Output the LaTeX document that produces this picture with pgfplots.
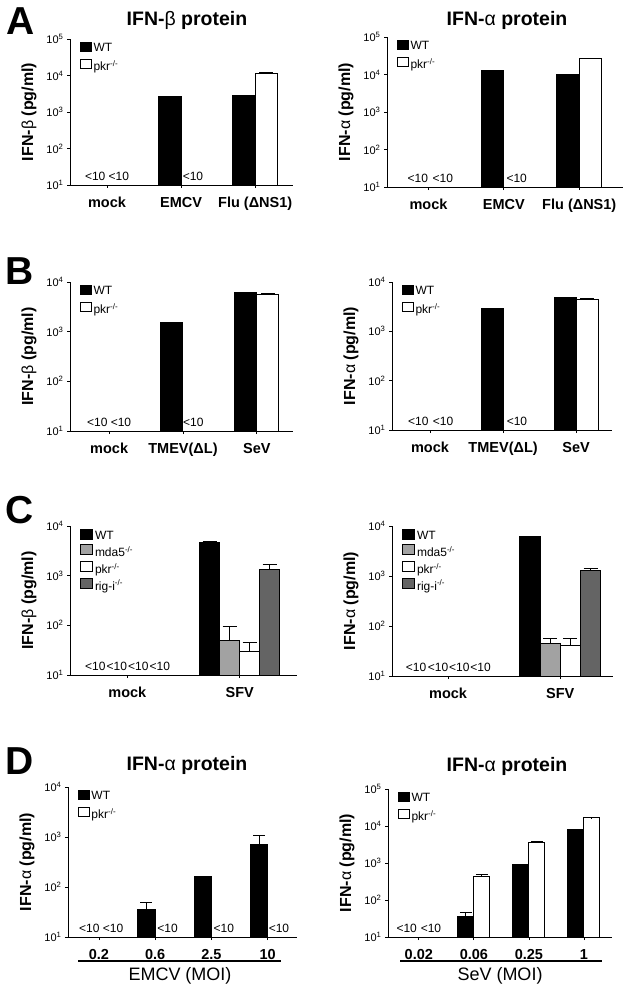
\documentclass[border=0pt]{standalone}
\usepackage{fontspec}
\setmainfont{Liberation Sans}
\usepackage{pgfplots}
\pgfplotsset{compat=1.18}

\definecolor{mdagray}{RGB}{162,162,162}
\definecolor{riggray}{RGB}{100,100,100}

\pgfplotsset{
  every axis/.append style={
    scale only axis,
    axis lines=left,
    axis line style={-, line width=1pt},
    ymode=log, log origin=infty,
    ybar=0pt,
    ymin=10,
    tick align=outside,
    major tick length=3pt,
    tick style={black, line width=0.8pt},
    yminorticks=false,
    x tick label style={font=\bfseries\fontsize{14.5}{14.5}\selectfont, anchor=base, yshift=-19.5pt},
    y tick label style={font=\fontsize{11}{11}\selectfont},
    ylabel style={font=\bfseries\fontsize{16}{16}\selectfont, at={(ticklabel cs:0.5,3pt)}},
    legend style={at={(axis description cs:0,1)}, anchor=north west, xshift=10pt, yshift=-2.5pt,
      draw=none, fill=none, inner sep=0pt, font=\fontsize{12}{12}\selectfont, row sep=3pt,
      /tikz/every even column/.append style={column sep=1.5pt}},
    legend cell align=left,
  },
}
% legend square: fill colour, width, top
\newcommand\legsq[3]{\addlegendimage{legend image code/.code={\draw[fill=#1,draw=black,line width=0.8pt] (0pt,-2.5pt) rectangle (#2,#3);}}}

\tikzset{
  lt/.style={font=\fontsize{12}{12}\selectfont, anchor=south, inner sep=0pt, yshift=4pt},
  ttl/.style={font=\bfseries\fontsize{19.5}{19.5}\selectfont, anchor=base},
  plet/.style={font=\bfseries\fontsize{39}{39}\selectfont},
}

\begin{document}
\begin{tikzpicture}
\useasboundingbox (0pt,0pt) rectangle (626pt,-993pt);

% panel letters and titles
\node[plet] at (21pt,-21pt) {A};
\node[plet] at (20pt,-271pt) {B};
\node[plet] at (20pt,-510pt) {C};
\node[plet] at (20pt,-761pt) {D};
\node[ttl] at (187pt,-25pt) {IFN-{\mdseries β} protein};
\node[ttl] at (507pt,-25pt) {IFN-{\mdseries α} protein};
\node[ttl] at (187pt,-770pt) {IFN-{\mdseries α} protein};
\node[ttl] at (507pt,-771pt) {IFN-{\mdseries α} protein};

% ---------- A left
\begin{axis}[at={(70pt,-185pt)}, anchor=south west, width=223pt, height=146pt,
  xmin=-0.5, xmax=2.51, ymax=1e5, bar width=0.3,
  xtick={0,1,2}, xticklabels={mock,EMCV,Flu (ΔNS1)},
  ytick={10,100,1000,10000,100000},
  yticklabels={10\textsuperscript{1},10\textsuperscript{2},10\textsuperscript{3},10\textsuperscript{4},10\textsuperscript{5}},
  ylabel={IFN-{\mdseries β} (pg/ml)}]
\legsq{black}{10.5pt}{6.5pt}
\legsq{white}{10.5pt}{6.5pt}
\addplot[forget plot, fill=black, draw=black, line width=1pt, bar shift=-0.15] coordinates {(1,2700) (2,2900)};
\addplot[forget plot, fill=white, draw=black, line width=1pt, bar shift=0.15,
  error bars/.cd, y dir=plus, y explicit, error mark options={rotate=90, black, line width=1pt, mark size=7pt}, error bar style={black, line width=1pt}]
  coordinates {(2,11000) +- (0,1000)};
\legend{WT, pkr\textsuperscript{-/-}}
\node[lt] at (axis cs:-0.16,10) {<10};
\node[lt] at (axis cs:0.16,10) {<10};
\node[lt] at (axis cs:1.16,10) {<10};
\end{axis}

% ---------- A right
\begin{axis}[at={(387pt,-187pt)}, anchor=south west, width=236pt, height=150pt,
  xmin=-0.55, xmax=2.58, ymax=1e5, bar width=0.3,
  xtick={0,1,2}, xticklabels={mock,EMCV,Flu (ΔNS1)},
  ytick={10,100,1000,10000,100000},
  yticklabels={10\textsuperscript{1},10\textsuperscript{2},10\textsuperscript{3},10\textsuperscript{4},10\textsuperscript{5}},
  ylabel={IFN-{\mdseries α} (pg/ml)}]
\legsq{black}{10.5pt}{6.5pt}
\legsq{white}{10.5pt}{6.5pt}
\addplot[forget plot, fill=black, draw=black, line width=1pt, bar shift=-0.15] coordinates {(1,12500) (2,10300)};
\addplot[forget plot, fill=white, draw=black, line width=1pt, bar shift=0.15,
  error bars/.cd, y dir=plus, y explicit, error mark options={rotate=90, black, line width=1pt, mark size=7pt}, error bar style={black, line width=1pt}]
  coordinates {(2,26000) +- (0,800)};
\legend{WT, pkr\textsuperscript{-/-}}
\node[lt] at (axis cs:-0.14,10) {<10};
\node[lt] at (axis cs:0.19,10) {<10};
\node[lt] at (axis cs:1.17,10) {<10};
\end{axis}

% ---------- B left
\begin{axis}[at={(70pt,-431pt)}, anchor=south west, width=223pt, height=149pt,
  xmin=-0.53, xmax=2.49, ymax=1e4, bar width=0.3,
  xtick={0,1,2}, xticklabels={mock,TMEV(ΔL),SeV},
  ytick={10,100,1000,10000},
  yticklabels={10\textsuperscript{1},10\textsuperscript{2},10\textsuperscript{3},10\textsuperscript{4}},
  ylabel={IFN-{\mdseries β} (pg/ml)}]
\legsq{black}{10.5pt}{6.5pt}
\legsq{white}{10.5pt}{6.5pt}
\addplot[forget plot, fill=black, draw=black, line width=1pt, bar shift=-0.15] coordinates {(1,1550) (2,6100)};
\addplot[forget plot, fill=white, draw=black, line width=1pt, bar shift=0.15,
  error bars/.cd, y dir=plus, y explicit, error mark options={rotate=90, black, line width=1pt, mark size=7pt}, error bar style={black, line width=1pt}]
  coordinates {(2,5500) +- (0,350)};
\legend{WT, pkr\textsuperscript{-/-}}
\node[lt] at (axis cs:-0.16,10) {<10};
\node[lt] at (axis cs:0.16,10) {<10};
\node[lt] at (axis cs:1.14,10) {<10};
\end{axis}

% ---------- B right
\begin{axis}[at={(392pt,-430pt)}, anchor=south west, width=220pt, height=148pt,
  xmin=-0.52, xmax=2.49, ymax=1e4, bar width=0.3,
  xtick={0,1,2}, xticklabels={mock,TMEV(ΔL),SeV},
  ytick={10,100,1000,10000},
  yticklabels={10\textsuperscript{1},10\textsuperscript{2},10\textsuperscript{3},10\textsuperscript{4}},
  ylabel={IFN-{\mdseries α} (pg/ml)}]
\legsq{black}{10.5pt}{6.5pt}
\legsq{white}{10.5pt}{6.5pt}
\addplot[forget plot, fill=black, draw=black, line width=1pt, bar shift=-0.15] coordinates {(1,2850) (2,4900)};
\addplot[forget plot, fill=white, draw=black, line width=1pt, bar shift=0.15,
  error bars/.cd, y dir=plus, y explicit, error mark options={rotate=90, black, line width=1pt, mark size=7pt}, error bar style={black, line width=1pt}]
  coordinates {(2,4400) +- (0,200)};
\legend{WT, pkr\textsuperscript{-/-}}
\node[lt] at (axis cs:-0.16,10) {<10};
\node[lt] at (axis cs:0.18,10) {<10};
\node[lt] at (axis cs:1.19,10) {<10};
\end{axis}

% ---------- C left
\begin{axis}[at={(70pt,-675pt)}, anchor=south west, width=227pt, height=149pt,
  xmin=-0.51, xmax=1.51, ymax=1e4, bar width=0.178,
  xtick={0,1}, xticklabels={mock,SFV},
  ytick={10,100,1000,10000},
  yticklabels={10\textsuperscript{1},10\textsuperscript{2},10\textsuperscript{3},10\textsuperscript{4}},
  ylabel={IFN-{\mdseries β} (pg/ml)},
  legend style={font=\fontsize{12}{12}\selectfont, row sep=1pt}]
\legsq{black}{12pt}{7.5pt}
\legsq{mdagray}{12pt}{7.5pt}
\legsq{white}{12pt}{7.5pt}
\legsq{riggray}{12pt}{7.5pt}
\addplot[forget plot, fill=black, draw=black, line width=1pt, bar shift=-0.267,
  error bars/.cd, y dir=plus, y explicit, error mark options={rotate=90, black, line width=1pt, mark size=7pt}, error bar style={black, line width=1pt}]
  coordinates {(1,4600) +- (0,200)};
\addplot[forget plot, fill=mdagray, draw=black, line width=1pt, bar shift=-0.089,
  error bars/.cd, y dir=plus, y explicit, error mark options={rotate=90, black, line width=1pt, mark size=7pt}, error bar style={black, line width=1pt}]
  coordinates {(1,50) +- (0,46)};
\addplot[forget plot, fill=white, draw=black, line width=1pt, bar shift=0.089,
  error bars/.cd, y dir=plus, y explicit, error mark options={rotate=90, black, line width=1pt, mark size=7pt}, error bar style={black, line width=1pt}]
  coordinates {(1,30) +- (0,15)};
\addplot[forget plot, fill=riggray, draw=black, line width=1pt, bar shift=0.267,
  error bars/.cd, y dir=plus, y explicit, error mark options={rotate=90, black, line width=1pt, mark size=7pt}, error bar style={black, line width=1pt}]
  coordinates {(1,1340) +- (0,300)};
\legend{WT, mda5\textsuperscript{-/-}, pkr\textsuperscript{-/-}, rig-i\textsuperscript{-/-}}
\node[lt] at (axis cs:-0.284,10) {<10};
\node[lt] at (axis cs:-0.093,10) {<10};
\node[lt] at (axis cs:0.098,10) {<10};
\node[lt] at (axis cs:0.289,10) {<10};
\end{axis}

% ---------- C right
\begin{axis}[at={(392pt,-676pt)}, anchor=south west, width=221pt, height=150pt,
  xmin=-0.5, xmax=1.47, ymax=1e4, bar width=0.18,
  xtick={0,1}, xticklabels={mock,SFV},
  ytick={10,100,1000,10000},
  yticklabels={10\textsuperscript{1},10\textsuperscript{2},10\textsuperscript{3},10\textsuperscript{4}},
  ylabel={IFN-{\mdseries α} (pg/ml)},
  legend style={font=\fontsize{12}{12}\selectfont, row sep=1pt}]
\legsq{black}{12pt}{7.5pt}
\legsq{mdagray}{12pt}{7.5pt}
\legsq{white}{12pt}{7.5pt}
\legsq{riggray}{12pt}{7.5pt}
\addplot[forget plot, fill=black, draw=black, line width=1pt, bar shift=-0.27,
  error bars/.cd, y dir=plus, y explicit, error mark options={rotate=90, black, line width=1pt, mark size=7pt}, error bar style={black, line width=1pt}]
  coordinates {(1,6100) +- (0,150)};
\addplot[forget plot, fill=mdagray, draw=black, line width=1pt, bar shift=-0.09,
  error bars/.cd, y dir=plus, y explicit, error mark options={rotate=90, black, line width=1pt, mark size=7pt}, error bar style={black, line width=1pt}]
  coordinates {(1,45) +- (0,11)};
\addplot[forget plot, fill=white, draw=black, line width=1pt, bar shift=0.09,
  error bars/.cd, y dir=plus, y explicit, error mark options={rotate=90, black, line width=1pt, mark size=7pt}, error bar style={black, line width=1pt}]
  coordinates {(1,41) +- (0,16)};
\addplot[forget plot, fill=riggray, draw=black, line width=1pt, bar shift=0.27,
  error bars/.cd, y dir=plus, y explicit, error mark options={rotate=90, black, line width=1pt, mark size=7pt}, error bar style={black, line width=1pt}]
  coordinates {(1,1300) +- (0,100)};
\legend{WT, mda5\textsuperscript{-/-}, pkr\textsuperscript{-/-}, rig-i\textsuperscript{-/-}}
\node[lt] at (axis cs:-0.285,10) {<10};
\node[lt] at (axis cs:-0.09,10) {<10};
\node[lt] at (axis cs:0.1,10) {<10};
\node[lt] at (axis cs:0.29,10) {<10};
\end{axis}

% ---------- D left
\begin{axis}[at={(68pt,-937pt)}, anchor=south west, width=229pt, height=150pt,
  xmin=-0.55, xmax=3.52, ymax=1e4, bar width=0.31,
  xtick={0,1,2,3}, xticklabels={0.2,0.6,2.5,10},
  ytick={10,100,1000,10000},
  yticklabels={10\textsuperscript{1},10\textsuperscript{2},10\textsuperscript{3},10\textsuperscript{4}},
  ylabel={IFN-{\mdseries α} (pg/ml)}]
\legsq{black}{10.5pt}{6.5pt}
\legsq{white}{10.5pt}{6.5pt}
\addplot[forget plot, fill=black, draw=black, line width=1pt, bar shift=-0.155,
  error bars/.cd, y dir=plus, y explicit, error mark options={rotate=90, black, line width=1pt, mark size=6pt}, error bar style={black, line width=1pt}]
  coordinates {(1,35) +- (0,13) (2,166) +- (0,0) (3,710) +- (0,360)};
\legend{WT, pkr\textsuperscript{-/-}}
\node[lt] at (axis cs:-0.17,10) {<10};
\node[lt] at (axis cs:0.25,10) {<10};
\node[lt] at (axis cs:1.22,10) {<10};
\node[lt] at (axis cs:2.22,10) {<10};
\node[lt] at (axis cs:3.2,10) {<10};
\end{axis}

% ---------- D right
\begin{axis}[at={(388pt,-937pt)}, anchor=south west, width=224pt, height=148pt,
  xmin=-0.56, xmax=3.51, ymax=1e5, bar width=0.29,
  xtick={0,1,2,3}, xticklabels={0.02,0.06,0.25,1},
  ytick={10,100,1000,10000,100000},
  yticklabels={10\textsuperscript{1},10\textsuperscript{2},10\textsuperscript{3},10\textsuperscript{4},10\textsuperscript{5}},
  ylabel={IFN-{\mdseries α} (pg/ml)}]
\legsq{black}{10.5pt}{6.5pt}
\legsq{white}{10.5pt}{6.5pt}
\addplot[forget plot, fill=black, draw=black, line width=1pt, bar shift=-0.145,
  error bars/.cd, y dir=plus, y explicit, error mark options={rotate=90, black, line width=1pt, mark size=6pt}, error bar style={black, line width=1pt}]
  coordinates {(1,35) +- (0,10) (2,940) +- (0,0) (3,7900) +- (0,0)};
\addplot[forget plot, fill=white, draw=black, line width=1pt, bar shift=0.145,
  error bars/.cd, y dir=plus, y explicit, error mark options={rotate=90, black, line width=1pt, mark size=6pt}, error bar style={black, line width=1pt}]
  coordinates {(1,440) +- (0,50) (2,3600) +- (0,100) (3,16500) +- (0,400)};
\legend{WT, pkr\textsuperscript{-/-}}
\node[lt] at (axis cs:-0.22,10) {<10};
\node[lt] at (axis cs:0.22,10) {<10};
\end{axis}

% dose axis captions for D
\draw[line width=1.5pt] (78pt,-961pt) -- (281pt,-961pt);
\node[font=\fontsize{18}{18}\selectfont, anchor=base] at (180pt,-980pt) {EMCV (MOI)};
\draw[line width=1.5pt] (400pt,-961pt) -- (602pt,-961pt);
\node[font=\fontsize{18}{18}\selectfont, anchor=base] at (500pt,-980pt) {SeV (MOI)};
\end{tikzpicture}
\end{document}
